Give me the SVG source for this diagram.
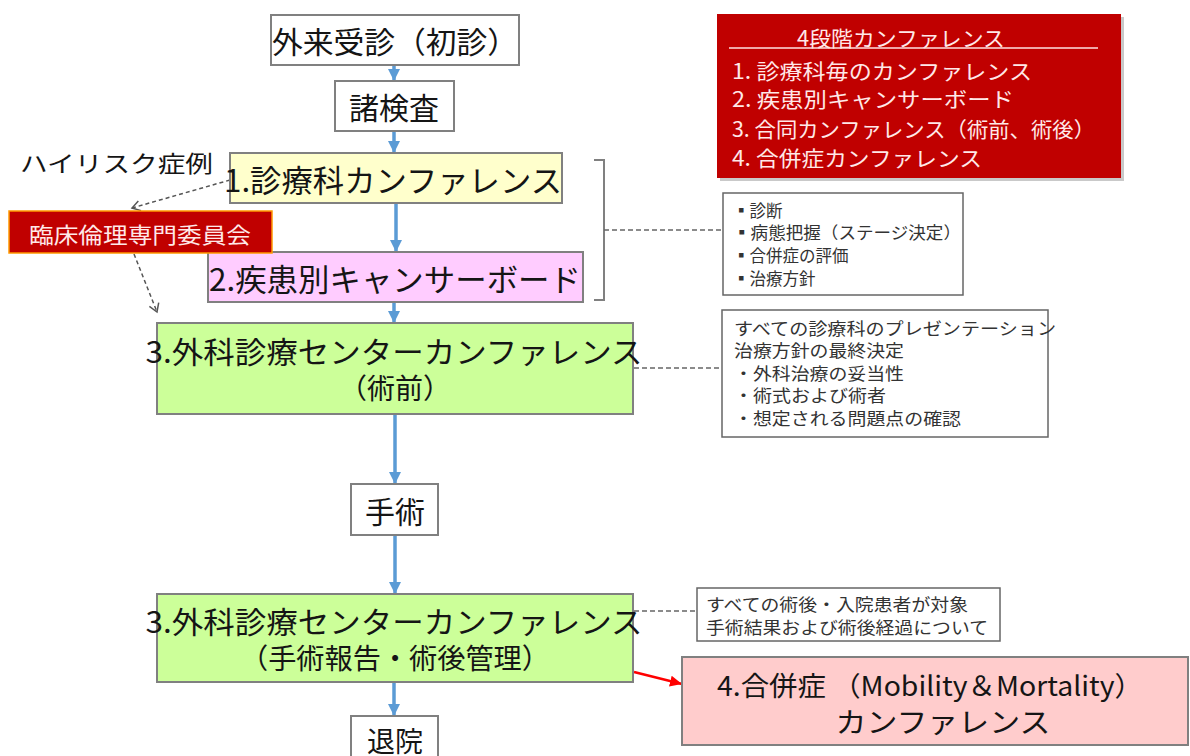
<svg xmlns="http://www.w3.org/2000/svg" width="1190" height="756" viewBox="0 0 1190 756">
<style>
.box{stroke:#808080;stroke-width:2}
.t{font-family:"Noto Sans CJK JP","Noto Sans",sans-serif;fill:#151515;dominant-baseline:central}
.m{text-anchor:middle}
.w{font-family:"Noto Sans CJK JP","Noto Sans",sans-serif;fill:#FFE8E8;dominant-baseline:central}
.n{font-family:"Noto Sans CJK JP","Noto Sans",sans-serif;fill:#333;dominant-baseline:central}
.blue{stroke:#5B9BD5;stroke-width:3.5;fill:none;marker-end:url(#ab)}
.dash{stroke:#666;stroke-width:1.5;stroke-dasharray:5 3;fill:none}
.darr{stroke:#555;stroke-width:1.5;stroke-dasharray:4 3;fill:none;marker-end:url(#ad)}
</style>
<defs>
<marker id="ab" markerUnits="userSpaceOnUse" markerWidth="14" markerHeight="14" refX="12" refY="7" orient="auto"><path d="M0,1 L12,7 L0,13 z" fill="#5B9BD5"/></marker>
<marker id="ar" markerUnits="userSpaceOnUse" markerWidth="14" markerHeight="14" refX="12" refY="7" orient="auto"><path d="M0,1.5 L12,7 L0,12.5 z" fill="#FF0000"/></marker>
<marker id="ad" markerUnits="userSpaceOnUse" markerWidth="12" markerHeight="12" refX="9" refY="6" orient="auto"><path d="M1,1 L9,6 L1,11" fill="none" stroke="#555" stroke-width="1.5"/></marker>
</defs>

<g id="connectors">
<line class="blue" x1="394" y1="66" x2="394" y2="81"/>
<line class="blue" x1="394" y1="132" x2="394" y2="153"/>
<line class="blue" x1="396" y1="204" x2="396" y2="252"/>
<line class="blue" x1="394" y1="303" x2="394" y2="323"/>
<line class="blue" x1="395" y1="415" x2="395" y2="484"/>
<line class="blue" x1="395" y1="536" x2="395" y2="594"/>
<line class="blue" x1="394" y1="683" x2="394" y2="716"/>
<line x1="634" y1="672" x2="682" y2="684" stroke="#FF0000" stroke-width="2.5" marker-end="url(#ar)"/>
<path class="darr" d="M230,180 L132,208"/>
<path class="darr" d="M134,254 L157,312"/>
<path d="M594,160 L604,160 L604,300 L594,300" fill="none" stroke="#808080" stroke-width="2"/>
<line class="dash" x1="604" y1="230" x2="723" y2="230"/>
<line class="dash" x1="634" y1="368" x2="722" y2="368"/>
<line class="dash" x1="634" y1="611" x2="697" y2="611"/>
</g>

<g id="n-gairai">
<rect class="box" x="271" y="15" width="248" height="50" fill="#fff"/>
<text class="t m" x="395" y="40" font-size="30" textLength="246" lengthAdjust="spacingAndGlyphs">外来受診（初診）</text>
</g>
<g id="n-kensa">
<rect class="box" x="335" y="81" width="119" height="50" fill="#fff"/>
<text class="t m" x="394" y="106" font-size="30">諸検査</text>
</g>
<g id="n-conf1">
<rect class="box" x="230" y="153" width="332" height="50" fill="#FFFFCC"/>
<text class="t m" x="393" y="178" font-size="31" textLength="338" lengthAdjust="spacingAndGlyphs">1.診療科カンファレンス</text>
</g>
<g id="n-conf2">
<rect class="box" x="208" y="252" width="375" height="50" fill="#FFCCFF"/>
<text class="t m" x="395" y="277" font-size="31" textLength="372" lengthAdjust="spacingAndGlyphs">2.疾患別キャンサーボード</text>
</g>
<g id="n-conf3pre">
<rect class="box" x="157" y="323" width="476" height="91" fill="#CCFF99"/>
<text class="t m" x="394" y="350" font-size="30" textLength="497" lengthAdjust="spacingAndGlyphs">3.外科診療センターカンファレンス</text>
<text class="t m" x="395" y="387" font-size="28">（術前）</text>
</g>
<g id="n-shujutsu">
<rect class="box" x="351" y="484" width="87" height="51" fill="#fff"/>
<text class="t m" x="395" y="510" font-size="30">手術</text>
</g>
<g id="n-conf3post">
<rect class="box" x="157" y="594" width="476" height="88" fill="#CCFF99"/>
<text class="t m" x="394" y="620" font-size="30" textLength="497" lengthAdjust="spacingAndGlyphs">3.外科診療センターカンファレンス</text>
<text class="t m" x="395" y="657" font-size="28" textLength="310" lengthAdjust="spacingAndGlyphs">（手術報告・術後管理）</text>
</g>
<g id="n-taiin">
<rect class="box" x="351" y="716" width="87" height="60" fill="#fff"/>
<text class="t m" x="395" y="740" font-size="28">退院</text>
</g>
<g id="n-conf4">
<rect class="box" x="682" y="657" width="506" height="88" fill="#FFCCCC"/>
<text class="t m" x="930" y="684" font-size="27" textLength="426" lengthAdjust="spacingAndGlyphs">4.合併症 （Mobility＆Mortality）</text>
<text class="t m" x="943" y="721" font-size="28" textLength="215" lengthAdjust="spacingAndGlyphs">カンファレンス</text>
</g>

<g id="n-4stage">
<rect x="720" y="17" width="404" height="164" fill="#888" opacity="0.45"/>
<rect x="717" y="14" width="404" height="164" fill="#C00000"/>
<text class="w m" x="901" y="37" font-size="21" textLength="208" lengthAdjust="spacingAndGlyphs">4段階カンファレンス</text>
<line x1="729" y1="48" x2="1098" y2="48" stroke="#FFE0E0" stroke-width="1.5"/>
<text class="w" x="732" y="70" font-size="21" textLength="300" lengthAdjust="spacingAndGlyphs">1. 診療科毎のカンファレンス</text>
<text class="w" x="732" y="98" font-size="21" textLength="282" lengthAdjust="spacingAndGlyphs">2. 疾患別キャンサーボード</text>
<text class="w" x="732" y="128" font-size="21" textLength="363" lengthAdjust="spacingAndGlyphs">3. 合同カンファレンス（術前、術後）</text>
<text class="w" x="732" y="157" font-size="21" textLength="250" lengthAdjust="spacingAndGlyphs">4. 合併症カンファレンス</text>
</g>

<g id="n-highrisk">
<text class="t" x="20" y="162" font-size="23" textLength="193" lengthAdjust="spacingAndGlyphs">ハイリスク症例</text>
</g>
<g id="n-ethics">
<rect x="9" y="211" width="263" height="42" fill="#C00000" stroke="#FF9900" stroke-width="1.5"/>
<text class="w m" x="140" y="233" font-size="22" textLength="222" lengthAdjust="spacingAndGlyphs">臨床倫理専門委員会</text>
</g>

<g id="n-info1">
<rect x="723" y="193" width="240" height="102" fill="#fff" stroke="#666" stroke-width="1.5"/>
<text class="n" x="733" y="210" font-size="16.5">▪診断</text>
<text class="n" x="733" y="232" font-size="16.5" textLength="228" lengthAdjust="spacingAndGlyphs">▪病態把握（ステージ決定）</text>
<text class="n" x="733" y="255" font-size="16.5">▪合併症の評価</text>
<text class="n" x="733" y="278" font-size="16.5">▪治療方針</text>
</g>
<g id="n-info2">
<rect x="722" y="310" width="326" height="127" fill="#fff" stroke="#666" stroke-width="1.5"/>
<text class="n" x="734" y="327" font-size="17" textLength="322" lengthAdjust="spacingAndGlyphs">すべての診療科のプレゼンテーション</text>
<text class="n" x="734" y="349" font-size="17" textLength="170" lengthAdjust="spacingAndGlyphs">治療方針の最終決定</text>
<text class="n" x="734" y="372" font-size="17" textLength="170" lengthAdjust="spacingAndGlyphs">・外科治療の妥当性</text>
<text class="n" x="734" y="394" font-size="17" textLength="152" lengthAdjust="spacingAndGlyphs">・術式および術者</text>
<text class="n" x="734" y="417" font-size="17" textLength="227" lengthAdjust="spacingAndGlyphs">・想定される問題点の確認</text>
</g>
<g id="n-info3">
<rect x="697" y="588" width="303" height="53" fill="#fff" stroke="#666" stroke-width="1.5"/>
<text class="n" x="706" y="603" font-size="17" textLength="262" lengthAdjust="spacingAndGlyphs">すべての術後・入院患者が対象</text>
<text class="n" x="706" y="626" font-size="17" textLength="282" lengthAdjust="spacingAndGlyphs">手術結果および術後経過について</text>
</g>
</svg>
